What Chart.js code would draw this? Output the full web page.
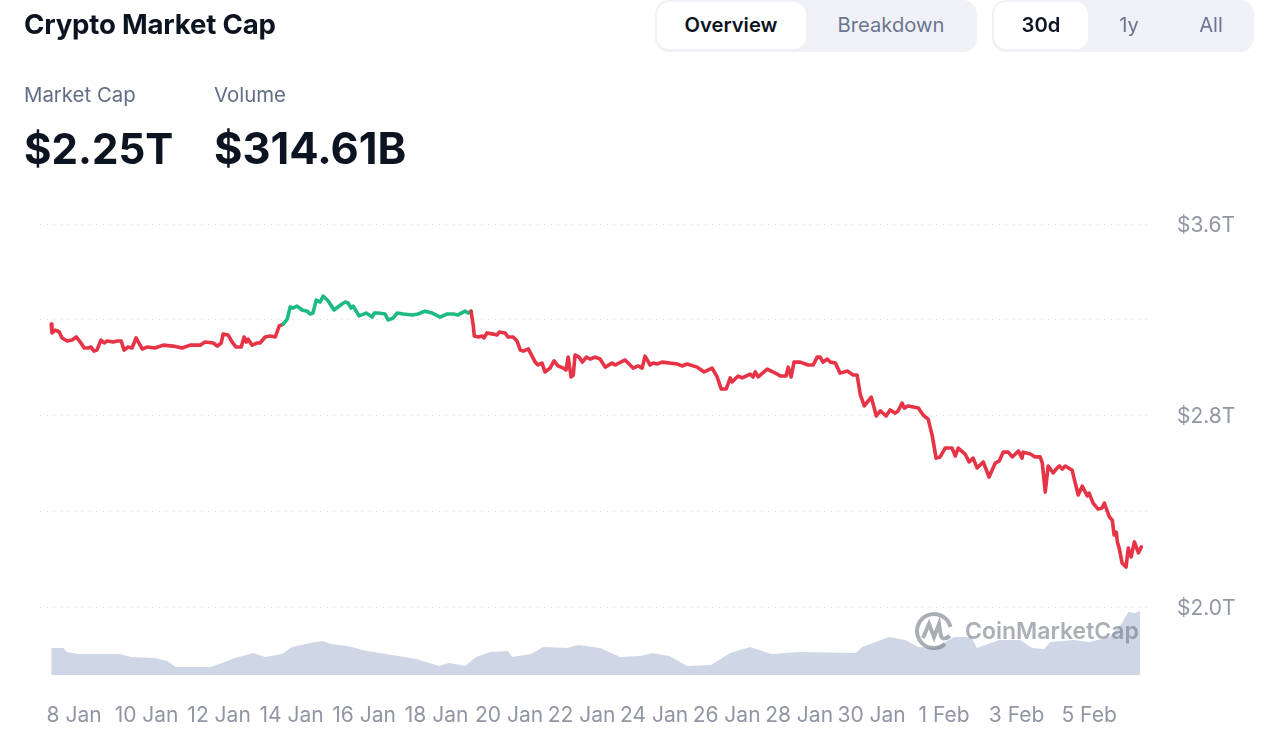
<!DOCTYPE html>
<html>
<head>
<meta charset="utf-8">
<title>Crypto Market Cap</title>
<script src="https://cdn.jsdelivr.net/npm/chart.js@4"></script>
<style>
    html, body { margin: 0; padding: 0; background: #fff; font-family: Inter, sans-serif; }
    #page { position: relative; width: 1280px; height: 754px; overflow: hidden; }
    #page canvas { position: absolute; left: 0; top: 0; }
    .abs { position: absolute; white-space: nowrap; line-height: 1; }
    .title { left: 24px; top: 11px; font-size: 27.6px; font-weight: 700; color: #0d1421; letter-spacing: -0.2px; }
    .stat-label { top: 85px; font-size: 20.4px; color: #616e85; }
    .stat { top: 128px; font-size: 42px; font-weight: 700; color: #0d1421; }
    .group { top: 0; height: 52px; background: #f0f1f6; border-radius: 14px; }
    .active { top: 2px; height: 47px; background: #fff; border-radius: 12px; }
    .btn { top: 15px; font-size: 20.2px; color: #6b7590; transform: translateX(-50%); }
    .btn.on { color: #0d1421; font-weight: 600; }
    .mark { left: 965px; top: 620px; font-size: 23px; font-weight: 600; color: rgba(118, 124, 136, 0.62); }
    .logo { position: absolute; left: 914px; top: 611px; }
</style>
</head>
<body>
<div id="page">
    <canvas id="chart" width="1280" height="754"></canvas>

    <div class="abs title">Crypto Market Cap</div>

    <div class="abs group" style="left: 655px; width: 322px;"></div>
    <div class="abs active" style="left: 657px; width: 149px;"></div>
    <div class="abs btn on" style="left: 731px;">Overview</div>
    <div class="abs btn" style="left: 891px;">Breakdown</div>

    <div class="abs group" style="left: 992px; width: 262px;"></div>
    <div class="abs active" style="left: 994px; width: 94px;"></div>
    <div class="abs btn on" style="left: 1041px;">30d</div>
    <div class="abs btn" style="left: 1129px;">1y</div>
    <div class="abs btn" style="left: 1211px;">All</div>

    <div class="abs stat-label" style="left: 24px;">Market Cap</div>
    <div class="abs stat-label" style="left: 214px;">Volume</div>
    <div class="abs stat" style="left: 24px;">$2.25T</div>
    <div class="abs stat" style="left: 214px; font-size: 43.5px; top: 127px;">$314.61B</div>

    <svg class="logo" width="40" height="40" viewBox="0 0 40 40" fill="none" stroke="rgba(118,124,136,0.62)" stroke-width="4">
        <path d="M36.5 16 A17 17 0 1 0 31 33" />
        <path d="M9 27 L15 13 L20 26 L25 13 L27 25 Q29 30 36 25" />
    </svg>
    <div class="abs mark">CoinMarketCap</div>
</div>

<script>
// Days since 8 Jan for every market cap reading, values in $T
const CAP_DAYS = [
    -0.63, -0.61, -0.52, -0.41, -0.33, -0.19, -0.06, 0.06, 0.17, 0.28, 0.39, 0.47, 0.55, 0.63, 0.74, 0.83, 0.91, 1.08, 1.19, 1.30,
    1.38, 1.49, 1.60, 1.71, 1.88, 2.01, 2.23, 2.46, 2.73, 2.98, 3.20, 3.48, 3.61, 3.84, 3.95, 4.06, 4.11, 4.25, 4.36, 4.47,
    4.61, 4.69, 4.75, 4.80, 4.91, 5.05, 5.13, 5.27, 5.41, 5.55, 5.66, 5.77, 5.88, 5.96, 6.04, 6.15, 6.29, 6.43, 6.51, 6.59,
    6.68, 6.79, 6.87, 7.01, 7.17, 7.39, 7.48, 7.56, 7.64, 7.70, 7.86, 8.06, 8.22, 8.28, 8.39, 8.58, 8.66, 8.80, 8.91, 9.08,
    9.33, 9.49, 9.68, 9.88, 10.10, 10.29, 10.46, 10.59, 10.79, 10.87, 10.95, 11.01, 11.04, 11.15, 11.26, 11.31, 11.39, 11.56, 11.67, 11.73,
    11.89, 11.97, 12.11, 12.22, 12.31, 12.39, 12.53, 12.72, 12.80, 12.91, 12.99, 13.13, 13.24, 13.35, 13.49, 13.57, 13.63, 13.71, 13.77, 13.82,
    13.93, 14.02, 14.13, 14.24, 14.37, 14.51, 14.65, 14.84, 14.93, 15.20, 15.42, 15.56, 15.67, 15.75, 15.89, 15.97, 16.08, 16.22, 16.64, 16.77,
    16.91, 17.19, 17.38, 17.60, 17.74, 17.85, 17.99, 18.10, 18.15, 18.32, 18.43, 18.65, 18.73, 18.79, 18.87, 19.12, 19.40, 19.48, 19.64, 19.70,
    19.78, 19.86, 20.03, 20.25, 20.39, 20.50, 20.58, 20.66, 20.78, 20.86, 21.00, 21.13, 21.33, 21.49, 21.60, 21.69, 21.80, 21.99, 22.13, 22.24,
    22.40, 22.51, 22.65, 22.73, 22.84, 22.90, 23.01, 23.29, 23.42, 23.56, 23.67, 23.78, 23.89, 24.03, 24.22, 24.31, 24.39, 24.58, 24.69, 24.80,
    24.91, 25.08, 25.24, 25.41, 25.52, 25.63, 25.77, 25.88, 26.05, 26.15, 26.18, 26.38, 26.51, 26.65, 26.71, 26.79, 26.87, 27.01, 27.12, 27.18,
    27.26, 27.34, 27.53, 27.70, 27.81, 27.95, 28.00, 28.11, 28.25, 28.36, 28.42, 28.56, 28.64, 28.69, 28.75, 28.78, 28.83, 28.91, 29.02, 29.08,
    29.16, 29.25, 29.36, 29.44
];
const CAP_VALUES = [
    3.182, 3.145, 3.157, 3.149, 3.124, 3.111, 3.115, 3.128, 3.107, 3.082, 3.082, 3.086, 3.069, 3.073, 3.115, 3.103, 3.111, 3.107, 3.111, 3.111,
    3.073, 3.086, 3.082, 3.124, 3.078, 3.086, 3.082, 3.094, 3.090, 3.082, 3.094, 3.094, 3.107, 3.103, 3.090, 3.103, 3.140, 3.136, 3.107, 3.086,
    3.086, 3.128, 3.107, 3.119, 3.094, 3.103, 3.103, 3.128, 3.132, 3.128, 3.174, 3.182, 3.203, 3.253, 3.249, 3.257, 3.241, 3.236, 3.224, 3.228,
    3.282, 3.274, 3.299, 3.278, 3.241, 3.266, 3.274, 3.270, 3.249, 3.257, 3.216, 3.228, 3.211, 3.228, 3.228, 3.224, 3.199, 3.207, 3.228, 3.224,
    3.220, 3.224, 3.236, 3.228, 3.211, 3.224, 3.224, 3.220, 3.236, 3.228, 3.236, 3.178, 3.132, 3.128, 3.132, 3.124, 3.145, 3.140, 3.136, 3.149,
    3.145, 3.128, 3.128, 3.111, 3.073, 3.069, 3.078, 3.023, 3.011, 3.019, 2.982, 2.998, 3.028, 3.007, 2.998, 2.990, 3.044, 2.961, 2.969, 3.053,
    3.044, 3.023, 3.044, 3.036, 3.044, 3.036, 3.002, 3.019, 3.011, 3.032, 2.998, 3.007, 2.998, 3.048, 3.011, 3.019, 3.015, 3.023, 3.015, 3.007,
    3.015, 3.002, 2.982, 2.998, 2.961, 2.911, 2.911, 2.957, 2.940, 2.965, 2.957, 2.973, 2.961, 2.982, 2.961, 2.994, 2.973, 2.965, 2.965, 3.002,
    2.961, 3.023, 3.023, 3.011, 3.011, 3.044, 3.044, 3.023, 3.036, 3.023, 3.019, 2.977, 2.986, 2.969, 2.969, 2.886, 2.840, 2.877, 2.798, 2.819,
    2.798, 2.823, 2.810, 2.819, 2.852, 2.831, 2.840, 2.831, 2.802, 2.785, 2.718, 2.622, 2.627, 2.664, 2.664, 2.631, 2.664, 2.639, 2.606, 2.622,
    2.581, 2.606, 2.543, 2.601, 2.610, 2.647, 2.647, 2.627, 2.652, 2.622, 2.647, 2.639, 2.627, 2.627, 2.601, 2.480, 2.589, 2.560, 2.581, 2.589,
    2.576, 2.589, 2.572, 2.468, 2.505, 2.464, 2.476, 2.434, 2.409, 2.414, 2.434, 2.376, 2.363, 2.301, 2.313, 2.272, 2.246, 2.184, 2.167, 2.246,
    2.209, 2.272, 2.226, 2.251
];

// Volume readings, values in $B
const VOLUME_DAYS = [
    -0.63, -0.30, -0.19, 0.11, 0.33, 1.27, 1.57, 2.23, 2.57, 2.81, 3.75, 4.08, 4.44, 4.94, 5.27, 5.74, 6.01, 6.51, 6.84, 7.09,
    7.53, 8.08, 8.77, 9.44, 10.07, 10.35, 10.79, 11.09, 11.48, 11.97, 12.08, 12.61, 12.94, 13.60, 13.91, 14.51, 15.06, 15.62, 15.95, 16.42,
    16.91, 17.57, 18.10, 18.65, 19.23, 20.00, 21.57, 21.74, 22.49, 22.93, 23.29, 23.73, 24.28, 24.75, 24.91, 25.52, 26.10, 26.43, 26.76, 26.93,
    27.56, 28.00, 28.56, 28.91, 29.08, 29.25, 29.41
];
const VOLUME_VALUES = [
    133, 133, 113, 103, 103, 103, 88, 84, 69, 39, 39, 59, 84, 108, 88, 103, 138, 157, 167, 152,
    143, 118, 98, 79, 44, 59, 44, 88, 113, 118, 88, 103, 138, 133, 147, 133, 88, 93, 108, 93,
    44, 49, 108, 138, 103, 113, 108, 138, 187, 172, 138, 133, 187, 187, 133, 172, 172, 133, 128, 162,
    172, 162, 187, 256, 310, 305, 315
];

const DATE_TICKS = [0, 2, 4, 6, 8, 10, 12, 14, 16, 18, 20, 22, 24, 26, 28];
const DATE_LABELS = ['8 Jan', '10 Jan', '12 Jan', '14 Jan', '16 Jan', '18 Jan', '20 Jan', '22 Jan',
                     '24 Jan', '26 Jan', '28 Jan', '30 Jan', '1 Feb', '3 Feb', '5 Feb'];
const CAP_TICKS = [2.0, 2.4, 2.8, 3.2, 3.6];
const CAP_LABELS = ['$2.0T', '', '$2.8T', '', '$3.6T'];

const RED = '#e63346';
const GREEN = '#1dbb82';
const TICK_COLOR = '#9096a3';

new Chart(document.getElementById('chart').getContext('2d'), {
    type: 'line',
    data: {
        datasets: [
            {
                label: 'Market Cap',
                data: CAP_DAYS.map((day, idx) => ({ x: day, y: CAP_VALUES[idx] })),
                yAxisID: 'y',
                order: 0,
                borderColor: RED,
                borderWidth: 3.6,
                borderJoinStyle: 'round',
                borderCapStyle: 'round',
                pointRadius: 0,
                tension: 0,
                segment: {
                    // Green while the cap stays above where the period started
                    borderColor: ctx => (ctx.p1.parsed.y > CAP_VALUES[0] && ctx.p0.parsed.y > CAP_VALUES[0] - 0.02) ? GREEN : RED
                }
            },
            {
                label: 'Volume',
                data: VOLUME_DAYS.map((day, idx) => ({ x: day, y: VOLUME_VALUES[idx] })),
                yAxisID: 'volume',
                order: 1,
                borderWidth: 0,
                backgroundColor: '#cfd6e5',
                fill: 'origin',
                pointRadius: 0,
                tension: 0
            }
        ]
    },
    options: {
        responsive: false,
        animation: false,
        layout: {
            padding: { left: 40, top: 224, right: 0, bottom: 0 }
        },
        scales: {
            x: {
                type: 'linear',
                min: -0.94,
                max: 29.68,
                grid: { display: false },
                border: { display: false },
                afterBuildTicks: axis => { axis.ticks = DATE_TICKS.map(value => ({ value: value })); },
                afterFit: axis => { axis.height = 79; },
                ticks: {
                    autoSkip: false,
                    maxRotation: 0,
                    padding: 20,
                    color: TICK_COLOR,
                    font: { family: 'Inter', size: 21 },
                    callback: value => DATE_LABELS[DATE_TICKS.indexOf(value)]
                }
            },
            y: {
                position: 'right',
                min: 1.716,
                max: 3.6,
                grid: {
                    color: '#d5d9e0',
                    lineWidth: 1,
                    tickLength: 0
                },
                border: { display: false, dash: [1, 6] },
                afterBuildTicks: axis => { axis.ticks = CAP_TICKS.map(value => ({ value: value })); },
                afterFit: axis => { axis.width = 130; },
                ticks: {
                    autoSkip: false,
                    padding: 27,
                    labelOffset: 1.5,
                    color: TICK_COLOR,
                    font: { family: 'Inter', size: 21 },
                    callback: value => CAP_LABELS[CAP_TICKS.indexOf(value)]
                }
            },
            volume: {
                display: false,
                min: 0,
                max: 2217
            }
        },
        plugins: {
            legend: false,
            tooltip: false
        }
    }
});
</script>
</body>
</html>
